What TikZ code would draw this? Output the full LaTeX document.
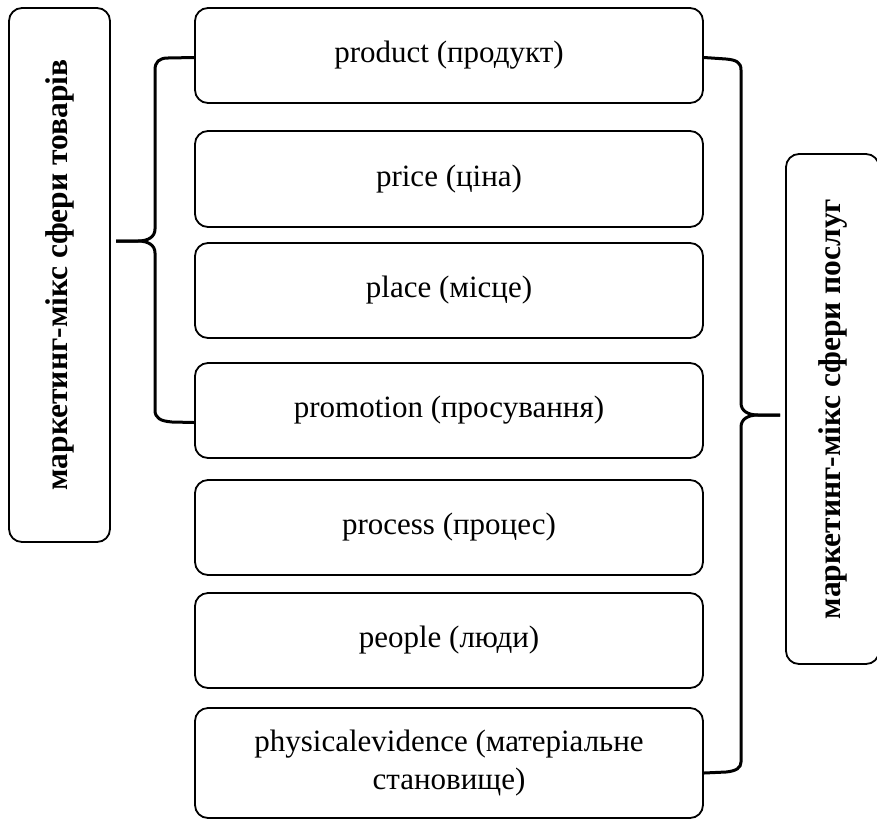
\documentclass[tikz,border=0pt]{standalone}
\usepackage{fontspec}
\setmainfont{Liberation Serif}
\begin{document}
\begin{tikzpicture}[x=1pt,y=-1pt,
  box/.style={draw, line width=1.8pt, rounded corners=13pt, inner sep=0pt,
    minimum width=508pt, minimum height=95pt, align=center,
    font=\fontsize{31}{38}\selectfont},
  sidebox/.style={draw, line width=1.8pt, rounded corners=13pt, inner sep=0pt,
    rotate=90, align=center, font=\fontsize{31.5}{38}\selectfont\bfseries},
  brace/.style={line width=3pt, line join=round}]
\useasboundingbox (0,0) rectangle (877,820);

\node[sidebox, minimum width=534pt, minimum height=101pt] (lbox) at (59.5,275) {маркетинг-мікс сфери товарів};
\node[sidebox, minimum width=510pt, minimum height=93pt] (rbox) at (832.5,409) {маркетинг-мікс сфери послуг};

\node[box] (prod) at (449,55.5) {product (продукт)};
\node[box, minimum height=96pt] (price) at (449,179) {price (ціна)};
\node[box] (place) at (449,290.5) {place (місце)};
\node[box] (promo) at (449,410.5) {promotion (просування)};
\node[box] (proc) at (449,527.5) {process (процес)};
\node[box] (people) at (449,640.5) {people (люди)};
\node[box, minimum height=110pt] (phys) at (449,763) {physicalevidence (матеріальне\\становище)};

\coordinate (ltip) at (116,241);
\coordinate (rtip) at (780,415);

% left brace
\draw[brace] ([yshift=-2pt]prod.west) -- (168,58) .. controls (159,58) and (155,62) .. (155,70)
  -- (155,229) .. controls (155,237) and (148,241) .. (138,241) -- (ltip);
\draw[brace] (ltip) -- (138,241) .. controls (148,241) and (155,245) .. (155,253)
  -- (155,410) .. controls (155,418) and (160,421) .. (172,422) -- ([yshift=-12pt]promo.west);

% right brace
\draw[brace] ([yshift=-2pt]prod.east) -- (726,59) .. controls (736,60) and (741,62) .. (741,70)
  -- (741,403) .. controls (741,411) and (748,415) .. (758,415) -- (rtip);
\draw[brace] (rtip) -- (758,415) .. controls (748,415) and (741,419) .. (741,427)
  -- (741,762) .. controls (741,768) and (736,771) .. (726,772) -- ([yshift=-10pt]phys.east);
\end{tikzpicture}
\end{document}
